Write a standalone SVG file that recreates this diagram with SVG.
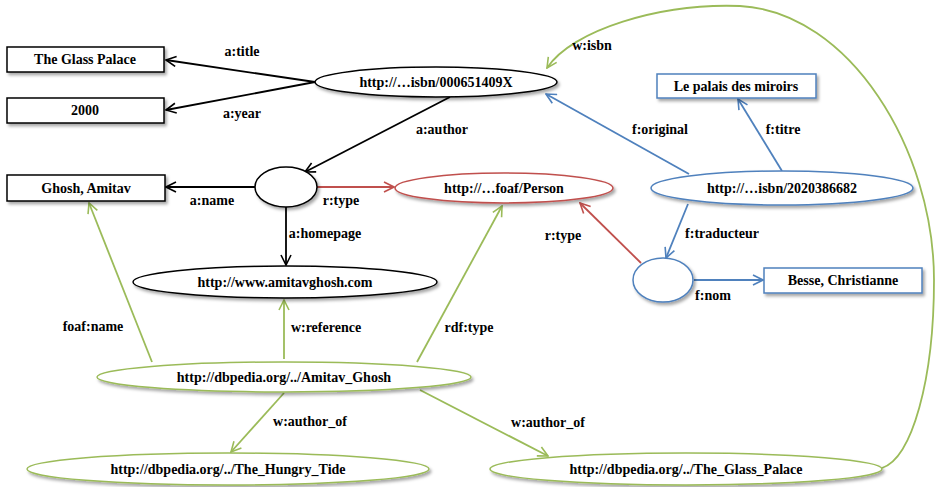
<svg xmlns="http://www.w3.org/2000/svg" width="939" height="487" viewBox="0 0 939 487" font-family="'Liberation Serif', 'DejaVu Serif', serif" font-weight="bold">
  <style>
    text { font-family: 'Liberation Serif', 'DejaVu Serif', serif; font-weight: 700; font-size: 14px; fill: #000; text-anchor: middle; }
    .node rect, .node ellipse { fill: #fff; stroke-width: 1.5; filter: url(#shadow); }
    .k { stroke: #000; }
    .r { stroke: #c0504d; }
    .b { stroke: #4f81bd; }
    .g { stroke: #9bbb59; }
    #edges path { fill: none; stroke-width: 1.8; }
    #edges .k { marker-end: url(#ak); }
    #edges .r { marker-end: url(#ar); }
    #edges .b { marker-end: url(#ab); }
    #edges .g { marker-end: url(#ag); }
  </style>
  <defs>
    <filter id="shadow" x="-10%" y="-30%" width="130%" height="180%">
      <feDropShadow dx="2" dy="2.5" stdDeviation="1.5" flood-color="#000" flood-opacity="0.35"/>
    </filter>
    <marker id="ak" viewBox="0 0 12 12" refX="11" refY="6" markerWidth="12" markerHeight="12" markerUnits="userSpaceOnUse" orient="auto">
      <path d="M1,1 L11,6 L1,11" fill="none" stroke="#000" stroke-width="1.6"/>
    </marker>
    <marker id="ar" viewBox="0 0 12 12" refX="11" refY="6" markerWidth="12" markerHeight="12" markerUnits="userSpaceOnUse" orient="auto">
      <path d="M1,1 L11,6 L1,11" fill="none" stroke="#c0504d" stroke-width="1.6"/>
    </marker>
    <marker id="ab" viewBox="0 0 12 12" refX="11" refY="6" markerWidth="12" markerHeight="12" markerUnits="userSpaceOnUse" orient="auto">
      <path d="M1,1 L11,6 L1,11" fill="none" stroke="#4f81bd" stroke-width="1.6"/>
    </marker>
    <marker id="ag" viewBox="0 0 12 12" refX="11" refY="6" markerWidth="12" markerHeight="12" markerUnits="userSpaceOnUse" orient="auto">
      <path d="M1,1 L11,6 L1,11" fill="none" stroke="#9bbb59" stroke-width="1.6"/>
    </marker>
  </defs>
  <rect width="939" height="487" fill="#fff"/>

  <!-- connectors -->
  <g id="edges">
    <path class="k" d="M315,82 L166,60"/>
    <path class="k" d="M315,82 L166,110"/>
    <path class="k" d="M450,97 L305,172"/>
    <path class="k" d="M255,187 L166,187"/>
    <path class="r" d="M317,187 L394,187"/>
    <path class="k" d="M286,207 L286,265"/>
    <path class="b" d="M689,174 L546,94"/>
    <path class="b" d="M782,171 L738,99"/>
    <path class="b" d="M688,204 L666,258"/>
    <path class="b" d="M694,280 L763,280"/>
    <path class="r" d="M641,263 L580,203"/>
    <path class="g" d="M152,362 L89,203"/>
    <path class="g" d="M284,359 L284,300"/>
    <path class="g" d="M417,362 L502,206"/>
    <path class="g" d="M284,393 L231,452"/>
    <path class="g" d="M420,390 L548,456"/>
    <path class="g" d="M882,468 C912,458 934,380 934,280 C934,150 850,12 740,6 C660,3 572,30 547,68"/>
  </g>

  <!-- edge labels -->
  <g id="labels">
    <text x="242" y="56">a:title</text>
    <text x="242" y="118">a:year</text>
    <text x="442" y="134">a:author</text>
    <text x="212" y="205">a:name</text>
    <text x="341" y="205">r:type</text>
    <text x="325" y="238">a:homepage</text>
    <text x="660" y="134">f:original</text>
    <text x="783" y="134">f:titre</text>
    <text x="722" y="238">f:traducteur</text>
    <text x="713" y="300">f:nom</text>
    <text x="563" y="240">r:type</text>
    <text x="93" y="331">foaf:name</text>
    <text x="326" y="332">w:reference</text>
    <text x="469" y="332">rdf:type</text>
    <text x="310" y="426">w:author_of</text>
    <text x="548" y="427">w:author_of</text>
    <text x="592" y="50">w:isbn</text>
  </g>

  <!-- nodes -->
  <g id="n-title" class="node">
    <rect class="k" x="7" y="47" width="157" height="25"/>
    <text x="85" y="64">The Glass Palace</text>
  </g>
  <g id="n-year" class="node">
    <rect class="k" x="7" y="98" width="157" height="25"/>
    <text x="85" y="115">2000</text>
  </g>
  <g id="n-isbn-en" class="node">
    <ellipse class="k" cx="436" cy="82" rx="121" ry="15"/>
    <text x="436" y="87">http://…isbn/000651409X</text>
  </g>
  <g id="n-name" class="node">
    <rect class="k" x="7" y="175" width="158" height="26"/>
    <text x="86" y="193">Ghosh, Amitav</text>
  </g>
  <g id="n-author" class="node">
    <ellipse class="k" cx="286" cy="187" rx="31" ry="20"/>
  </g>
  <g id="n-person" class="node">
    <ellipse class="r" cx="504" cy="188" rx="109" ry="15"/>
    <text x="504" y="193">http://…foaf/Person</text>
  </g>
  <g id="n-homepage" class="node">
    <ellipse class="k" cx="285" cy="282" rx="152" ry="16"/>
    <text x="285" y="287">http://www.amitavghosh.com</text>
  </g>
  <g id="n-titre" class="node">
    <rect class="b" x="657" y="74" width="159" height="24"/>
    <text x="736" y="91">Le palais des miroirs</text>
  </g>
  <g id="n-isbn-fr" class="node">
    <ellipse class="b" cx="782" cy="188" rx="131" ry="17"/>
    <text x="782" y="193">http://…isbn/2020386682</text>
  </g>
  <g id="n-translator" class="node">
    <ellipse class="b" cx="663" cy="280" rx="30" ry="22"/>
  </g>
  <g id="n-nom" class="node">
    <rect class="b" x="764" y="268" width="158" height="25"/>
    <text x="843" y="285">Besse, Christianne</text>
  </g>
  <g id="n-dbp-ghosh" class="node">
    <ellipse class="g" cx="284" cy="377" rx="187" ry="15"/>
    <text x="284" y="382">http://dbpedia.org/../Amitav_Ghosh</text>
  </g>
  <g id="n-dbp-tide" class="node">
    <ellipse class="g" cx="228" cy="469" rx="201" ry="16"/>
    <text x="228" y="474">http://dbpedia.org/../The_Hungry_Tide</text>
  </g>
  <g id="n-dbp-palace" class="node">
    <ellipse class="g" cx="686" cy="469" rx="196" ry="16"/>
    <text x="686" y="474">http://dbpedia.org/../The_Glass_Palace</text>
  </g>
</svg>
